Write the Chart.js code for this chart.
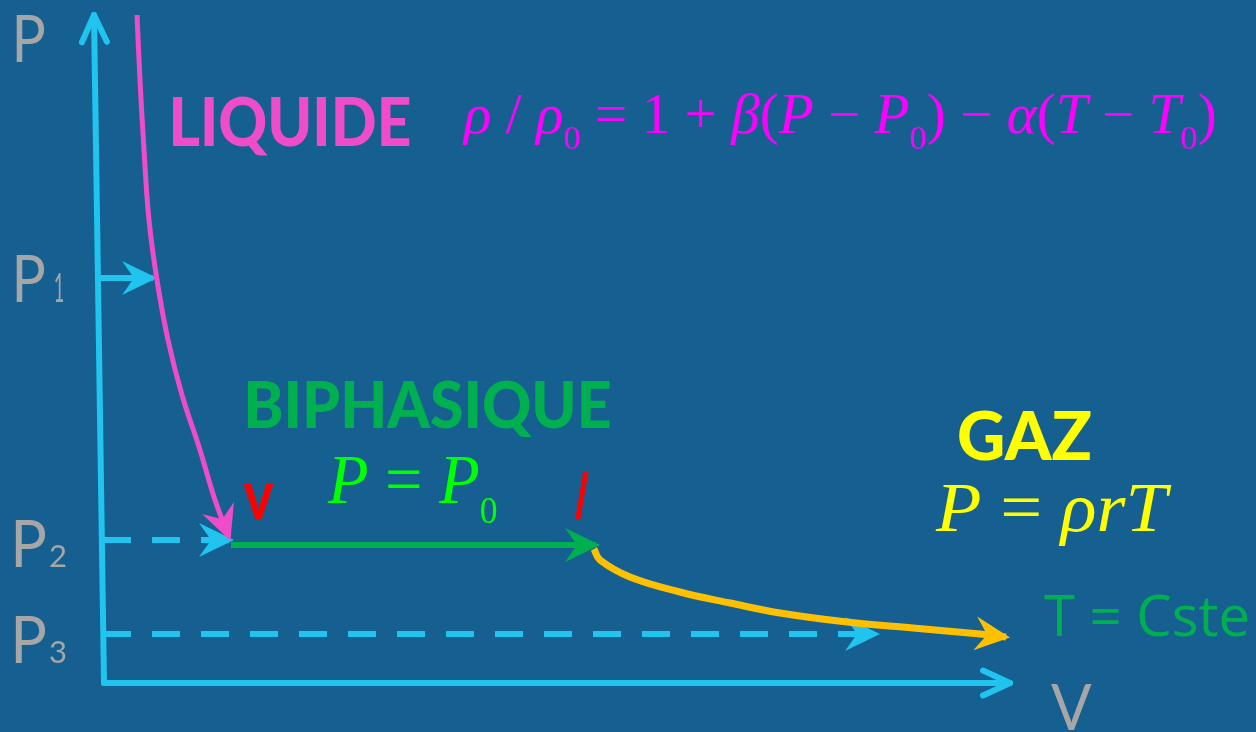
<!DOCTYPE html>
<html>
<head>
<meta charset="utf-8">
<script src="https://cdn.jsdelivr.net/npm/chart.js@4.4.1/dist/chart.umd.min.js"></script>
<style>
  html, body { margin: 0; padding: 0; background: #156091; }
  #wrap { width: 1256px; height: 732px; position: relative; }
</style>
</head>
<body>
<div id="wrap"><canvas id="c"></canvas></div>
<script>
// diagram units: V to the right, P upward, origin at the axis corner
const axisP = [{ x: 0.1, y: 0 }, { x: -0.9, y: 66.8 }];
const axisV = [{ x: 0.1, y: 0 }, { x: 90.7, y: 0 }];
const levelP1 = [{ x: -0.4, y: 40.5 }, { x: 5.0, y: 40.5 }];
const levelP2 = [{ x: 0.0, y: 14.3 }, { x: 12.7, y: 14.3 }];
const levelP3 = [{ x: 0.0, y: 4.9 }, { x: 77.3, y: 4.9 }];

const liquideV = [3.4, 3.7, 4.1, 4.6, 5.4, 6.5, 7.9, 9.7, 11.2, 12.6];
const liquideP = [66.8, 60.3, 53.3, 46.3, 40.3, 34.3, 28.8, 23.3, 18.3, 14.6];
const palierV = [12.8, 49.3];
const palierP = [13.8, 13.8];
const gazV = [49.1, 49.7, 52.7, 57.7, 62.7, 67.7, 74.4, 81.0, 87.7, 90.3];
const gazP = [13.4, 12.3, 10.6, 9.1, 8.0, 7.0, 6.1, 5.5, 4.9, 4.6];

const zip = (xs, ys) => xs.map((x, i) => ({ x: x, y: ys[i] }));

const CYAN = '#21c3ef';
const GREY = '#a6a6a6';

// arrowheads drawn right after each dataset so stacking stays right
const arrowPlugin = {
  id: 'arrows',
  afterDatasetDraw(chart, args) {
    const ds = chart.data.datasets[args.index];
    if (!ds.head) return;
    const pts = args.meta.data;
    const a = pts[pts.length - 2], b = pts[pts.length - 1];
    const ang = Math.atan2(b.y - a.y, b.x - a.x);
    const ctx = chart.ctx;
    ctx.save();
    ctx.translate(b.x, b.y);
    ctx.rotate(ang);
    if (ds.head === 'open') {
      ctx.strokeStyle = ds.borderColor;
      ctx.lineWidth = ds.borderWidth;
      ctx.lineCap = 'round';
      ctx.lineJoin = 'round';
      ctx.beginPath();
      ctx.moveTo(-27, -12.5);
      ctx.lineTo(0, 0);
      ctx.lineTo(-27, 12.5);
      ctx.stroke();
    } else {
      ctx.fillStyle = ds.borderColor;
      ctx.beginPath();
      ctx.moveTo(4, 0);
      ctx.lineTo(-31, -17);
      ctx.lineTo(-19, 0);
      ctx.lineTo(-31, 17);
      ctx.closePath();
      ctx.fill();
    }
    ctx.restore();
  }
};

function inkText(ctx, str, font, color, left, right, base) {
  ctx.font = font;
  const m = ctx.measureText(str);
  const w = m.actualBoundingBoxLeft + m.actualBoundingBoxRight;
  ctx.save();
  ctx.translate(left, base);
  ctx.scale((right - left) / w, 1);
  ctx.fillStyle = color;
  ctx.textAlign = 'left';
  ctx.textBaseline = 'alphabetic';
  ctx.fillText(str, m.actualBoundingBoxLeft, 0);
  ctx.restore();
}

// runs: [text, 'i' italic | 'r' roman, isSubscript]
function mathText(ctx, runs, color, left, right, base, size, subSize, subDrop) {
  let x = 0;
  const placed = runs.map(r => {
    const f = (r[1] === 'i' ? 'italic ' : '') + (r[2] ? subSize : size) + 'px "Liberation Serif"';
    ctx.font = f;
    const m = ctx.measureText(r[0]);
    const p = { t: r[0], f: f, x: x, dy: r[2] ? subDrop : 0, m: m };
    x += m.width;
    return p;
  });
  const first = placed[0], last = placed[placed.length - 1];
  const inkL = first.x - first.m.actualBoundingBoxLeft;
  const inkR = last.x + last.m.actualBoundingBoxRight;
  ctx.save();
  ctx.translate(left, base);
  ctx.scale((right - left) / (inkR - inkL), 1);
  ctx.fillStyle = color;
  ctx.textBaseline = 'alphabetic';
  placed.forEach(p => { ctx.font = p.f; ctx.fillText(p.t, p.x - inkL, p.dy); });
  ctx.restore();
}

const labelPlugin = {
  id: 'labels',
  afterDraw(chart) {
    const ctx = chart.ctx;
    const X = v => chart.scales.x.getPixelForValue(v);
    const Y = v => chart.scales.y.getPixelForValue(v);
    const thin = '400 65px Lato';
    const sub = s => '400 ' + s + 'px Lato';

    inkText(ctx, 'P', thin, GREY, X(-8.7), X(-5.8), Y(62.1));
    inkText(ctx, 'P', thin, GREY, X(-8.7), X(-5.8), Y(38.1));
    inkText(ctx, '1', sub(41), GREY, X(-4.8), X(-4.0), Y(38.1));
    inkText(ctx, 'P', thin, GREY, X(-8.8), X(-5.7), Y(11.6));
    inkText(ctx, '2', sub(31), GREY, X(-5.3), X(-3.7), Y(11.6));
    inkText(ctx, 'P', thin, GREY, X(-8.8), X(-5.7), Y(2.0));
    inkText(ctx, '3', sub(31), GREY, X(-5.3), X(-3.7), Y(2.0));
    inkText(ctx, 'V', '400 63px Lato', GREY, X(94.8), X(98.9), Y(-4.7));

    inkText(ctx, 'LIQUIDE', '900 67px Lato', '#ef4cc9', X(7.0), X(30.7), Y(53.7));
    inkText(ctx, 'BIPHASIQUE', '900 64px Lato', '#00b050', X(14.4), X(50.7), Y(25.5));
    inkText(ctx, 'GAZ', '900 66px Lato', '#ffff00', X(85.6), X(98.8), Y(22.3));
    inkText(ctx, 'T = Cste', '57px "Open Sans"', '#00b050', X(94.1), X(114.5), Y(4.7));
    inkText(ctx, 'v', 'bold 70px Lato', '#ff0000', X(14.0), X(17.1), Y(16.4));
    inkText(ctx, 'l', 'italic 67px "Liberation Sans"', '#ff0000', X(47.2), X(48.6), Y(16.4));

    mathText(ctx, [
      ['ρ', 'i'], [' / ', 'r'], ['ρ', 'i'], ['0', 'r', true], [' = 1 + ', 'r'],
      ['β', 'i'], ['(', 'r'], ['P', 'i'], [' − ', 'r'], ['P', 'i'], ['0', 'r', true],
      [') − ', 'r'], ['α', 'i'], ['(', 'r'], ['T', 'i'], [' − ', 'r'], ['T', 'i'],
      ['0', 'r', true], [')', 'r']
    ], '#ff00ff', X(35.9), X(111.2), Y(55.0), 56, 34, 16);

    mathText(ctx, [['P', 'i'], [' = ', 'r'], ['P', 'i'], ['0', 'r', true]],
      '#00ff00', X(22.4), X(39.4), Y(18.0), 69, 37, 20);

    mathText(ctx, [['P', 'i'], [' = ', 'r'], ['ρ', 'i'], ['r', 'i'], ['T', 'i']],
      '#ffff00', X(83.2), X(106.9), Y(15.2), 69, 37, 20);
  }
};

const line = (data, color, width, head, extra) => Object.assign({
  data: data, borderColor: color, borderWidth: width, pointRadius: 0,
  showLine: true, fill: false, clip: false, head: head, borderCapStyle: 'butt'
}, extra || {});

new Chart(document.getElementById('c'), {
  type: 'scatter',
  data: {
    datasets: [
      line(zip(gazV, gazP), '#ffc000', 7, 'stealth', { tension: 0.4 }),
      line(zip(palierV, palierP), '#00b050', 6, 'stealth'),
      line(zip(liquideV, liquideP), '#ef4cc9', 5, 'stealth', { tension: 0.4 }),
      line(levelP2, CYAN, 6, 'stealth', { borderDash: [28, 21] }),
      line(levelP3, CYAN, 6, 'stealth', { borderDash: [28, 21] }),
      line(levelP1, CYAN, 6, 'stealth'),
      line(axisV, CYAN, 6, 'open', { borderCapStyle: 'round' }),
      line(axisP, CYAN, 6, 'open', { borderCapStyle: 'round' })
    ]
  },
  options: {
    responsive: true,
    maintainAspectRatio: false,
    animation: false,
    events: [],
    layout: { padding: 0 },
    plugins: { legend: { display: false }, tooltip: { enabled: false } },
    scales: {
      x: { type: 'linear', min: -10.3, max: 115.3, display: false },
      y: { type: 'linear', min: -4.9, max: 68.3, display: false }
    }
  },
  plugins: [arrowPlugin, labelPlugin]
});
</script>
</body>
</html>
